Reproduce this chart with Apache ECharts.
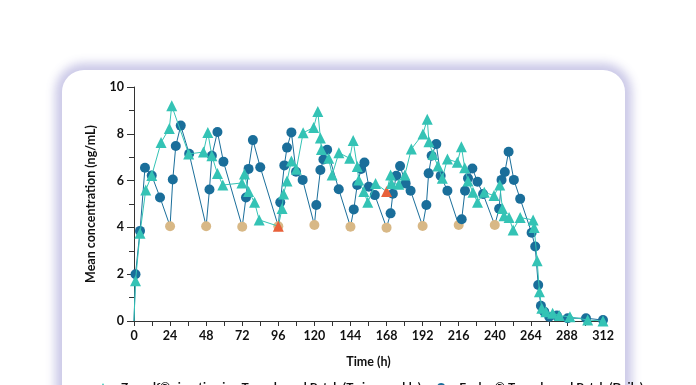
<!DOCTYPE html>
<html>
<head>
<meta charset="utf-8">
<script src="https://cdn.jsdelivr.net/npm/echarts@6/dist/echarts.min.js"></script>
<style>
  html, body { margin: 0; padding: 0; background: #ffffff; }
  #wrap { position: relative; width: 696px; height: 385px; overflow: hidden; background: #fff; }
  #card { position: absolute; left: 62px; top: 70px; width: 563px; height: 360px;
          border-radius: 22px; background: #fff;
          box-shadow: 0 0 10px 7px rgba(198,196,230,0.9); }
  #chart { position: absolute; left: 0; top: 0; width: 696px; height: 385px; }
</style>
</head>
<body>
<div id="wrap">
  <div id="card"></div>
  <div id="chart"></div>
</div>
<script>
// ---- data ----
const xTicks = [0, 24, 48, 72, 96, 120, 144, 168, 192, 216, 240, 264, 288, 312];
const yTicks = [0, 2, 4, 6, 8, 10];

const twiceName = "Zevgelf\u00ae rivastigmine Transdermal Patch (Twice weekly)";
const dailyName = "Exelon\u00ae Transdermal Patch (Daily)";

const twiceHours = [0,1,4,7.8,11.8,18,23.5,25.1,36.4,46.2,49.1,51.8,55.5,59.1,71.8,73.5,76.2,80.2,83.3,96,98.5,99.5,101.8,104.7,108,112.5,119.5,122.3,124,124.7,129.5,131.8,136.3,143.5,145.8,148.5,149.5,152.9,155.5,160.7,168,170.7,171.3,176.2,180.2,184.5,192.2,195.1,196.2,198.9,202.2,205.1,208.5,215.1,217.8,220,222.2,225.5,228.5,233,239.5,243.3,245.1,246.2,249.5,252.2,256.9,265.5,266.2,268.2,269.7,271.3,274,278.5,282.9,290,301.8,312];
const twiceValues = [0,1.72,3.75,5.6,6.22,7.63,8.23,9.2,7.14,7.22,8.06,7.06,6.3,5.81,5.9,6.28,5.53,5.07,4.32,4.05,4.81,5.43,5.98,6.84,6.48,8.04,8.27,8.95,7.82,7.33,6.95,6.24,7.19,6.95,7.71,6.6,6.03,5.53,5.07,5.88,5.53,6.24,5.88,5.84,6.24,7.35,7.99,8.62,7.66,7.12,6.62,6.1,6.92,6.78,7.45,6.55,5.98,5.5,5.07,5.5,5.36,5.81,4.81,4.5,4.42,3.89,4.42,4.32,4.0,2.58,1.25,0.54,0.4,0.33,0.23,0.18,0.04,0];
const twiceTroughHours = [96, 168];

const dailyHours = [0,1,4,7.3,11.8,17.3,24,25.8,27.8,31.1,36.7,48,50.2,51.8,55.5,59.5,72,74.5,76.2,79.1,84,96,97.3,100,101.8,104.7,107.8,112.2,120,121.3,124,126,128.5,136.2,144,146.2,148.5,151.1,153.3,156.2,160.2,168,170.7,172.2,174.5,177,180.7,184,192,194.5,196,198,201.1,204,208.5,216,218,220.2,222.2,225.1,228.5,232.2,240,242.9,244.5,246.7,249.2,252.7,256.9,264.5,266.9,268.9,270.7,272.9,276.2,281.3,288.5,300.7,312];
const dailyValues = [0,2.0,3.85,6.55,6.22,5.28,4.05,6.05,7.48,8.35,7.15,4.05,5.62,7.06,8.08,6.81,4.03,5.28,6.5,7.73,6.57,4.05,5.07,6.65,7.41,8.06,6.38,6.03,4.1,4.96,6.45,6.9,7.32,5.63,4.03,4.77,5.81,6.5,6.77,5.74,5.38,3.99,4.6,5.44,6.21,6.62,5.88,5.57,4.06,4.96,6.31,7.06,7.56,6.21,5.57,4.1,4.35,5.57,6.1,6.52,5.95,5.43,4.1,4.8,6.03,6.37,7.23,6.03,5.22,3.77,3.18,1.54,0.65,0.4,0.18,0.23,0.12,0.12,0.04];
const dailyTroughHours = [24, 48, 72, 96, 120, 144, 168, 192, 216, 240];

// ---- styles ----
const TEAL = "#34c3b5";
const BLUE = "#1a6e9a";
const TAN = "#d8b886";
const ORANGE = "#e8613a";
const FONT = "Lato";

function build(hours, values, troughs, troughColor) {
  return hours.map((h, i) => {
    const item = { value: [h, values[i]] };
    if (troughs.indexOf(h) >= 0) item.itemStyle = { color: troughColor };
    if (i === 0) item.symbol = "none"; // baseline start point has no marker
    return item;
  });
}

const chart = echarts.init(document.getElementById("chart"), null, { renderer: "canvas" });
chart.setOption({
  backgroundColor: "transparent",
  animation: false,
  textStyle: { fontFamily: FONT },
  grid: { left: 134, right: 93, top: 87, bottom: 64, containLabel: false },
  legend: {
    left: 84, top: 376, itemGap: 6, itemWidth: 26, itemHeight: 10,
    textStyle: { fontFamily: FONT, fontWeight: "bold", fontSize: 12, color: "#111" },
    data: [twiceName, dailyName]
  },
  xAxis: {
    type: "value", min: 0, max: 312, interval: 24,
    name: "Time (h)", nameLocation: "middle", nameGap: 34,
    nameTextStyle: { fontFamily: FONT, fontWeight: "bold", fontSize: 12.5, color: "#111" },
    axisLine: { show: true, onZero: false, lineStyle: { color: "#333", width: 1 } },
    axisTick: { show: true, inside: false, length: 5, lineStyle: { color: "#333" } },
    minorTick: { show: true, splitNumber: 2, length: 5, lineStyle: { color: "#333" } },
    splitLine: { show: false },
    axisLabel: { fontFamily: FONT, fontWeight: "bold", fontSize: 12.5, color: "#111", margin: 8,
      formatter: v => (xTicks.indexOf(v) >= 0 ? String(v) : "") }
  },
  yAxis: {
    type: "value", min: 0, max: 10, interval: 2,
    name: "Mean concentration (ng/mL)", nameLocation: "middle", nameGap: 37, nameRotate: 90,
    nameTextStyle: { fontFamily: FONT, fontWeight: "bold", fontSize: 12.5, color: "#111" },
    axisLine: { show: true, onZero: false, lineStyle: { color: "#333", width: 1 } },
    axisTick: { show: true, inside: false, length: 7, lineStyle: { color: "#333" } },
    minorTick: { show: true, splitNumber: 2, length: 5, lineStyle: { color: "#333" } },
    splitLine: { show: false },
    axisLabel: { fontFamily: FONT, fontWeight: "bold", fontSize: 12.5, color: "#111", margin: 10,
      formatter: v => (yTicks.indexOf(v) >= 0 ? String(v) : "") }
  },
  series: [
    {
      name: dailyName, type: "line", z: 2,
      data: build(dailyHours, dailyValues, dailyTroughHours, TAN),
      symbol: "circle", symbolSize: 10, showAllSymbol: true,
      lineStyle: { color: BLUE, width: 1 },
      itemStyle: { color: BLUE, borderWidth: 0 }
    },
    {
      name: twiceName, type: "line", z: 3,
      data: build(twiceHours, twiceValues, twiceTroughHours, ORANGE),
      symbol: "triangle", symbolSize: 11, showAllSymbol: true,
      lineStyle: { color: TEAL, width: 1 },
      itemStyle: { color: TEAL, borderWidth: 0 }
    }
  ]
});
</script>
</body>
</html>
